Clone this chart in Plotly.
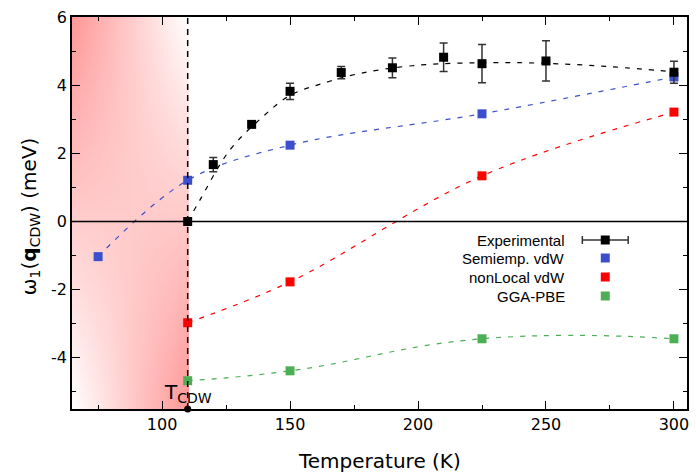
import numpy as np
import plotly.graph_objects as go

# ---------------- data ----------------
exp_T = [110, 120, 135, 150, 170, 190, 210, 225, 250, 300]
exp_w = [0.0, 1.67, 2.85, 3.82, 4.37, 4.51, 4.82, 4.63, 4.71, 4.38]
exp_err = [0.0, 0.21, 0.05, 0.24, 0.18, 0.29, 0.42, 0.56, 0.59, 0.32]

# dashed guide curve drawn through the experimental data
fit_T = [110, 114.7, 126.4, 139.3, 150, 162.7, 177, 197.7, 225, 250, 275.6, 300]
fit_w = [0.0, 0.62, 2.09, 3.07, 3.7, 4.05, 4.34, 4.57, 4.66, 4.64, 4.54, 4.39]

semi_T = [75, 110, 150, 225, 300]
semi_w = [-1.03, 1.21, 2.24, 3.16, 4.24]

nonloc_T = [110, 150, 225, 300]
nonloc_w = [-2.97, -1.77, 1.34, 3.21]

gga_T = [110, 150, 225, 300]
gga_w = [-4.67, -4.38, -3.44, -3.44]

T_cdw = 110
x_ticks = [100, 150, 200, 250, 300]
y_ticks = [-4, -2, 0, 2, 4, 6]
y_ticktext = ["-4", "-2", "0", "2", "4", "6"]

legend_labels = ["Experimental", "Semiemp. vdW", "nonLocal vdW", "GGA-PBE"]

# ---------------- styles ----------------
X_RANGE = [64.8, 305.1]
Y_RANGE = [-5.5, 6.0]
BLUE = "#3b4fcc"
RED = "#ff0000"
GREEN = "#4caf55"
AXFONT = "DejaVu Sans"

W, H = 696, 472
ML, MR, MT, MB = 72, 7, 17, 63
PW, PH = W - ML - MR, H - MT - MB


def px(xp):
    return (xp - ML) / PW


def py(yp):
    return (MT + PH - yp) / PH


fig = go.Figure()

# background gradient (white -> red) left of T_CDW:
# red at top-left and bottom-right corners, white at the other two
nx, ny = 40, 80
gx = [X_RANGE[0] + (T_cdw - X_RANGE[0]) * i / (nx - 1) for i in range(nx)]
gy = [Y_RANGE[0] + (Y_RANGE[1] - Y_RANGE[0]) * j / (ny - 1) for j in range(ny)]
Z = []
for j in range(ny):
    v = j / (ny - 1)
    row = []
    for i in range(nx):
        u = i / (nx - 1)
        row.append(u * (1 - v) + (1 - u) * v)
    Z.append(row)
fig.add_trace(go.Heatmap(x=gx, y=gy, z=Z, zsmooth="best", showscale=False,
                         colorscale=[[0, "rgb(255,255,255)"], [1, "rgb(255,150,150)"]],
                         zmin=0, zmax=1, hoverinfo="skip"))

dash = "5px,7px"
fig.add_trace(go.Scatter(x=fit_T, y=fit_w, mode="lines", line=dict(color="black", width=1.2, dash=dash, shape="spline"),
                         hoverinfo="skip"))
fig.add_trace(go.Scatter(x=semi_T, y=semi_w, mode="lines", line=dict(color=BLUE, width=1.2, dash=dash, shape="spline")))
fig.add_trace(go.Scatter(x=nonloc_T, y=nonloc_w, mode="lines", line=dict(color=RED, width=1.2, dash=dash, shape="spline")))
fig.add_trace(go.Scatter(x=gga_T, y=gga_w, mode="lines", line=dict(color=GREEN, width=1.2, dash=dash, shape="spline", smoothing=1.3)))

fig.add_trace(go.Scatter(x=semi_T, y=semi_w, mode="markers", marker=dict(symbol="square", size=9, color=BLUE)))
fig.add_trace(go.Scatter(x=nonloc_T, y=nonloc_w, mode="markers", marker=dict(symbol="square", size=9, color=RED)))
fig.add_trace(go.Scatter(x=gga_T, y=gga_w, mode="markers", marker=dict(symbol="square", size=9, color=GREEN)))
fig.add_trace(go.Scatter(x=exp_T, y=exp_w, mode="markers",
                         marker=dict(symbol="square", size=9, color="black"),
                         error_y=dict(type="data", array=exp_err, visible=True, color="#333333",
                                      thickness=1.5, width=4)))

# T_CDW marker on the axis
fig.add_trace(go.Scatter(x=[T_cdw], y=[Y_RANGE[0]], mode="markers", cliponaxis=False,
                         marker=dict(symbol="circle", size=7, color="black")))

# reference lines
fig.add_shape(type="line", xref="x", yref="y domain", x0=T_cdw, x1=T_cdw, y0=0, y1=1,
              line=dict(color="black", width=1.5, dash="6px,5px"))
fig.add_shape(type="line", xref="x domain", yref="y", x0=0, x1=1, y0=0, y1=0,
              line=dict(color="black", width=1.5))

fig.add_annotation(x=T_cdw, y=Y_RANGE[0], xref="x", yref="y", text="T<sub>CDW</sub>",
                   showarrow=False, xanchor="center", yanchor="bottom", yshift=1,
                   font=dict(family=AXFONT, size=20, color="black"))

# axis titles
fig.add_annotation(x=px(380), y=py(461), xref="paper", yref="paper", text="Temperature (K)",
                   showarrow=False, xanchor="center", yanchor="middle",
                   font=dict(family=AXFONT, size=20, color="black"))
fig.add_annotation(x=px(30), y=py(217), xref="paper", yref="paper",
                   text="ω<sub>1</sub>(<b>q</b><sub>CDW</sub>) (meV)", textangle=-90,
                   showarrow=False, xanchor="center", yanchor="middle",
                   font=dict(family=AXFONT, size=20, color="black"))

# custom legend (text left, symbol right)
rows = [240, 258, 277, 296]
LFONT = dict(family="Liberation Sans, Arial", size=15, color="black")
for lab, ry in zip(legend_labels, rows):
    fig.add_annotation(x=px(569), y=py(ry), xref="paper", yref="paper", text=lab, showarrow=False,
                       xanchor="right", yanchor="middle", font=LFONT)
# experimental glyph
fig.add_shape(type="line", xref="paper", yref="paper", x0=px(584), x1=px(630), y0=py(rows[0]), y1=py(rows[0]),
              line=dict(color="#333333", width=1.5))
for cx in (584, 630):
    fig.add_shape(type="line", xref="paper", yref="paper", x0=px(cx), x1=px(cx),
                  y0=py(rows[0] - 4), y1=py(rows[0] + 4), line=dict(color="#333333", width=1.5))
for col, ry in zip(["black", BLUE, RED, GREEN], rows):
    fig.add_shape(type="rect", xref="paper", yref="paper", x0=px(602.5), x1=px(611.5),
                  y0=py(ry + 4.5), y1=py(ry - 4.5), line=dict(width=0), fillcolor=col)

axis_common = dict(showline=True, linecolor="black", linewidth=1.5, mirror="ticks",
                   ticks="inside", tickcolor="black", tickwidth=1.2, ticklen=8,
                   showgrid=False, zeroline=False,
                   tickfont=dict(family=AXFONT, size=16, color="black"))
fig.update_xaxes(range=X_RANGE, tickvals=x_ticks, ticktext=[str(v) for v in x_ticks],
                 minor=dict(dtick=25, tick0=0, ticks="inside", ticklen=4, tickcolor="black", tickwidth=1.2),
                 **axis_common)
fig.update_yaxes(range=Y_RANGE, tickvals=y_ticks, ticktext=y_ticktext,
                 minor=dict(dtick=1, tick0=0, ticks="inside", ticklen=4, tickcolor="black", tickwidth=1.2),
                 **axis_common)

fig.update_layout(width=W, height=H, margin=dict(l=ML, r=MR, t=MT, b=MB),
                  paper_bgcolor="white", plot_bgcolor="white", showlegend=False)

fig.write_html("out.html")
